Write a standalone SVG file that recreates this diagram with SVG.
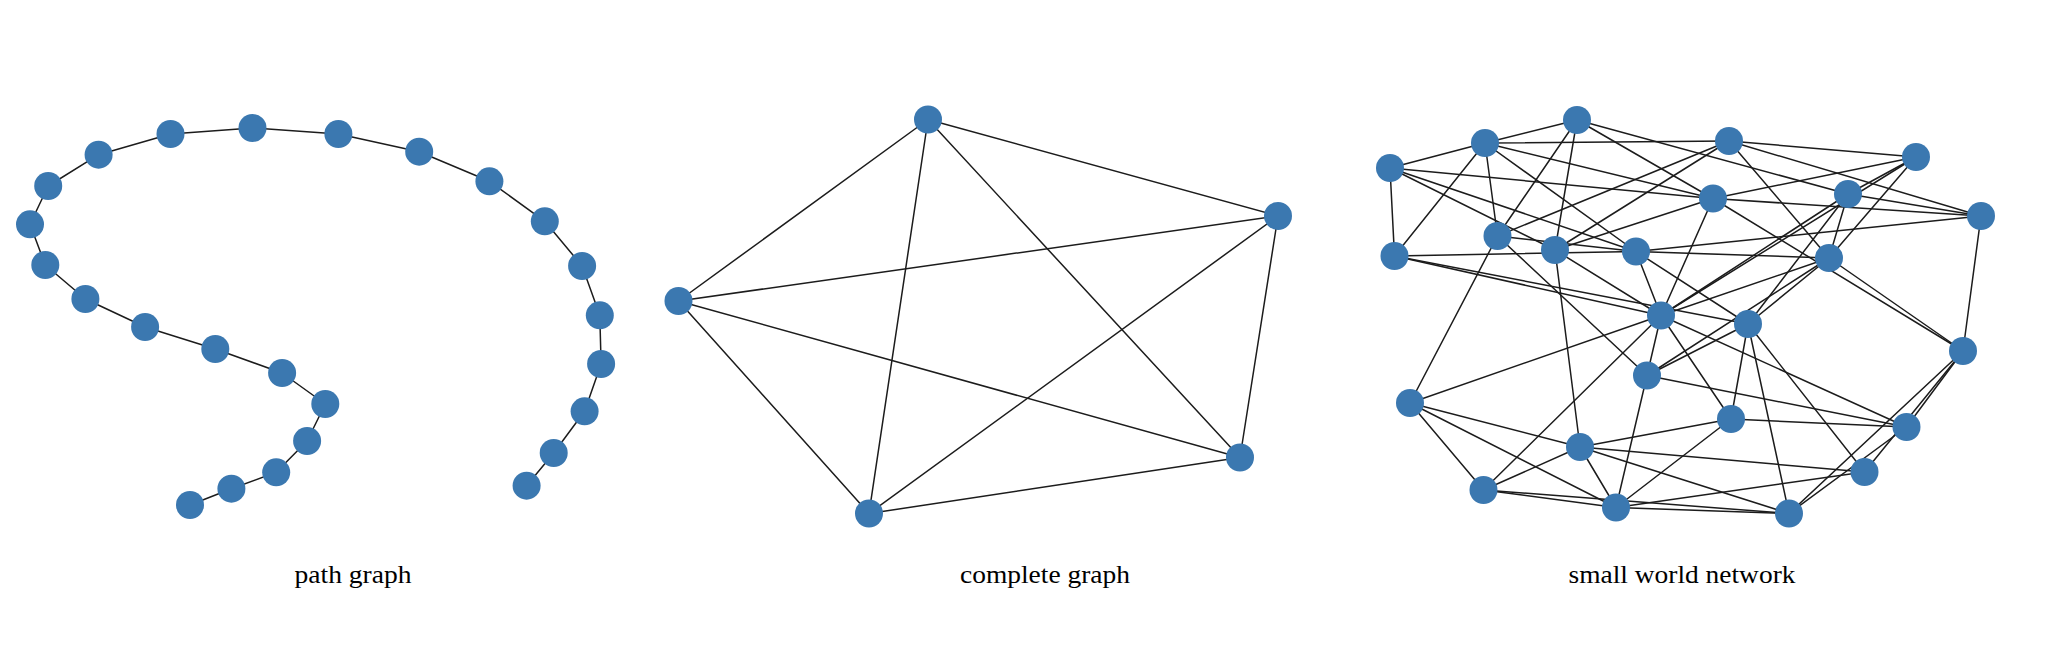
<svg xmlns="http://www.w3.org/2000/svg" width="2046" height="668" viewBox="0 0 2046 668">
<style>
.bg{fill:#ffffff}
.edges line{stroke:#1c1c1c;stroke-width:1.5;stroke-linecap:round}
.node circle{fill:#3b78b0}
.label{font-family:"Liberation Serif","DejaVu Serif",serif;font-size:25px;fill:#000;text-anchor:middle}
</style>
<rect class="bg" x="0" y="0" width="2046" height="668"/>
<g id="connectors" class="edges">
<g id="path-edges">
<line x1="190" y1="505" x2="231.4" y2="488.7"/>
<line x1="231.4" y1="488.7" x2="276.2" y2="472.3"/>
<line x1="276.2" y1="472.3" x2="307.1" y2="441"/>
<line x1="307.1" y1="441" x2="325.3" y2="404"/>
<line x1="325.3" y1="404" x2="282.1" y2="373"/>
<line x1="282.1" y1="373" x2="215.3" y2="349"/>
<line x1="215.3" y1="349" x2="145.1" y2="327"/>
<line x1="145.1" y1="327" x2="85.4" y2="299"/>
<line x1="85.4" y1="299" x2="45.3" y2="265"/>
<line x1="45.3" y1="265" x2="30" y2="224.3"/>
<line x1="30" y1="224.3" x2="48.2" y2="186"/>
<line x1="48.2" y1="186" x2="98.6" y2="154.7"/>
<line x1="98.6" y1="154.7" x2="170.5" y2="134"/>
<line x1="170.5" y1="134" x2="252.5" y2="128"/>
<line x1="252.5" y1="128" x2="338.4" y2="134"/>
<line x1="338.4" y1="134" x2="419.2" y2="151.7"/>
<line x1="419.2" y1="151.7" x2="489.4" y2="181.3"/>
<line x1="489.4" y1="181.3" x2="544.8" y2="221.3"/>
<line x1="544.8" y1="221.3" x2="582.1" y2="266"/>
<line x1="582.1" y1="266" x2="599.8" y2="315.3"/>
<line x1="599.8" y1="315.3" x2="601.1" y2="364"/>
<line x1="601.1" y1="364" x2="584.6" y2="411.3"/>
<line x1="584.6" y1="411.3" x2="553.7" y2="453"/>
<line x1="553.7" y1="453" x2="526.6" y2="485.7"/>
</g>
<g id="complete-edges">
<line x1="928" y1="119.5" x2="1278" y2="216"/>
<line x1="928" y1="119.5" x2="678.5" y2="301"/>
<line x1="928" y1="119.5" x2="1240" y2="457.5"/>
<line x1="928" y1="119.5" x2="869" y2="513.5"/>
<line x1="1278" y1="216" x2="678.5" y2="301"/>
<line x1="1278" y1="216" x2="1240" y2="457.5"/>
<line x1="1278" y1="216" x2="869" y2="513.5"/>
<line x1="678.5" y1="301" x2="1240" y2="457.5"/>
<line x1="678.5" y1="301" x2="869" y2="513.5"/>
<line x1="1240" y1="457.5" x2="869" y2="513.5"/>
</g>
<g id="smallworld-edges">
<line x1="1390" y1="168" x2="1485" y2="143"/>
<line x1="1390" y1="168" x2="1394.5" y2="256"/>
<line x1="1390" y1="168" x2="1713" y2="198.5"/>
<line x1="1390" y1="168" x2="1636" y2="251.5"/>
<line x1="1390" y1="168" x2="1555" y2="250"/>
<line x1="1485" y1="143" x2="1577" y2="120"/>
<line x1="1485" y1="143" x2="1394.5" y2="256"/>
<line x1="1485" y1="143" x2="1497.5" y2="236"/>
<line x1="1485" y1="143" x2="1729" y2="141"/>
<line x1="1485" y1="143" x2="1713" y2="198.5"/>
<line x1="1485" y1="143" x2="1636" y2="251.5"/>
<line x1="1577" y1="120" x2="1497.5" y2="236"/>
<line x1="1577" y1="120" x2="1555" y2="250"/>
<line x1="1577" y1="120" x2="1713" y2="198.5"/>
<line x1="1577" y1="120" x2="1848" y2="194"/>
<line x1="1729" y1="141" x2="1916" y2="157"/>
<line x1="1729" y1="141" x2="1981" y2="216"/>
<line x1="1729" y1="141" x2="1829" y2="258"/>
<line x1="1729" y1="141" x2="1555" y2="250"/>
<line x1="1729" y1="141" x2="1497.5" y2="236"/>
<line x1="1916" y1="157" x2="1713" y2="198.5"/>
<line x1="1916" y1="157" x2="1848" y2="194"/>
<line x1="1916" y1="157" x2="1661" y2="315.5"/>
<line x1="1916" y1="157" x2="1829" y2="258"/>
<line x1="1981" y1="216" x2="1713" y2="198.5"/>
<line x1="1981" y1="216" x2="1636" y2="251.5"/>
<line x1="1981" y1="216" x2="1848" y2="194"/>
<line x1="1981" y1="216" x2="1963" y2="351"/>
<line x1="1848" y1="194" x2="1661" y2="315.5"/>
<line x1="1848" y1="194" x2="1829" y2="258"/>
<line x1="1848" y1="194" x2="1748" y2="324"/>
<line x1="1713" y1="198.5" x2="1555" y2="250"/>
<line x1="1713" y1="198.5" x2="1963" y2="351"/>
<line x1="1713" y1="198.5" x2="1661" y2="315.5"/>
<line x1="1394.5" y1="256" x2="1636" y2="251.5"/>
<line x1="1394.5" y1="256" x2="1661" y2="315.5"/>
<line x1="1394.5" y1="256" x2="1748" y2="324"/>
<line x1="1497.5" y1="236" x2="1410" y2="403"/>
<line x1="1497.5" y1="236" x2="1636" y2="251.5"/>
<line x1="1497.5" y1="236" x2="1647" y2="375.5"/>
<line x1="1555" y1="250" x2="1661" y2="315.5"/>
<line x1="1555" y1="250" x2="1580" y2="447"/>
<line x1="1636" y1="251.5" x2="1661" y2="315.5"/>
<line x1="1636" y1="251.5" x2="1748" y2="324"/>
<line x1="1636" y1="251.5" x2="1829" y2="258"/>
<line x1="1829" y1="258" x2="1963" y2="351"/>
<line x1="1829" y1="258" x2="1647" y2="375.5"/>
<line x1="1829" y1="258" x2="1748" y2="324"/>
<line x1="1829" y1="258" x2="1661" y2="315.5"/>
<line x1="1661" y1="315.5" x2="1410" y2="403"/>
<line x1="1661" y1="315.5" x2="1483.5" y2="490"/>
<line x1="1661" y1="315.5" x2="1647" y2="375.5"/>
<line x1="1661" y1="315.5" x2="1731" y2="419"/>
<line x1="1661" y1="315.5" x2="1906.5" y2="427"/>
<line x1="1748" y1="324" x2="1647" y2="375.5"/>
<line x1="1748" y1="324" x2="1731" y2="419"/>
<line x1="1748" y1="324" x2="1864.5" y2="472"/>
<line x1="1748" y1="324" x2="1789" y2="513.5"/>
<line x1="1963" y1="351" x2="1906.5" y2="427"/>
<line x1="1963" y1="351" x2="1864.5" y2="472"/>
<line x1="1963" y1="351" x2="1789" y2="513.5"/>
<line x1="1410" y1="403" x2="1580" y2="447"/>
<line x1="1410" y1="403" x2="1483.5" y2="490"/>
<line x1="1410" y1="403" x2="1616" y2="507.5"/>
<line x1="1647" y1="375.5" x2="1906.5" y2="427"/>
<line x1="1647" y1="375.5" x2="1616" y2="507.5"/>
<line x1="1731" y1="419" x2="1906.5" y2="427"/>
<line x1="1731" y1="419" x2="1580" y2="447"/>
<line x1="1731" y1="419" x2="1616" y2="507.5"/>
<line x1="1906.5" y1="427" x2="1789" y2="513.5"/>
<line x1="1580" y1="447" x2="1483.5" y2="490"/>
<line x1="1580" y1="447" x2="1616" y2="507.5"/>
<line x1="1580" y1="447" x2="1864.5" y2="472"/>
<line x1="1580" y1="447" x2="1789" y2="513.5"/>
<line x1="1864.5" y1="472" x2="1616" y2="507.5"/>
<line x1="1483.5" y1="490" x2="1616" y2="507.5"/>
<line x1="1483.5" y1="490" x2="1789" y2="513.5"/>
<line x1="1616" y1="507.5" x2="1789" y2="513.5"/>
</g>
</g>
<g id="path-graph">
<g id="p1" class="node"><circle cx="190" cy="505" r="14"/></g>
<g id="p2" class="node"><circle cx="231.4" cy="488.7" r="14"/></g>
<g id="p3" class="node"><circle cx="276.2" cy="472.3" r="14"/></g>
<g id="p4" class="node"><circle cx="307.1" cy="441" r="14"/></g>
<g id="p5" class="node"><circle cx="325.3" cy="404" r="14"/></g>
<g id="p6" class="node"><circle cx="282.1" cy="373" r="14"/></g>
<g id="p7" class="node"><circle cx="215.3" cy="349" r="14"/></g>
<g id="p8" class="node"><circle cx="145.1" cy="327" r="14"/></g>
<g id="p9" class="node"><circle cx="85.4" cy="299" r="14"/></g>
<g id="p10" class="node"><circle cx="45.3" cy="265" r="14"/></g>
<g id="p11" class="node"><circle cx="30" cy="224.3" r="14"/></g>
<g id="p12" class="node"><circle cx="48.2" cy="186" r="14"/></g>
<g id="p13" class="node"><circle cx="98.6" cy="154.7" r="14"/></g>
<g id="p14" class="node"><circle cx="170.5" cy="134" r="14"/></g>
<g id="p15" class="node"><circle cx="252.5" cy="128" r="14"/></g>
<g id="p16" class="node"><circle cx="338.4" cy="134" r="14"/></g>
<g id="p17" class="node"><circle cx="419.2" cy="151.7" r="14"/></g>
<g id="p18" class="node"><circle cx="489.4" cy="181.3" r="14"/></g>
<g id="p19" class="node"><circle cx="544.8" cy="221.3" r="14"/></g>
<g id="p20" class="node"><circle cx="582.1" cy="266" r="14"/></g>
<g id="p21" class="node"><circle cx="599.8" cy="315.3" r="14"/></g>
<g id="p22" class="node"><circle cx="601.1" cy="364" r="14"/></g>
<g id="p23" class="node"><circle cx="584.6" cy="411.3" r="14"/></g>
<g id="p24" class="node"><circle cx="553.7" cy="453" r="14"/></g>
<g id="p25" class="node"><circle cx="526.6" cy="485.7" r="14"/></g>
</g>
<g id="complete-graph">
<g id="c1" class="node"><circle cx="928" cy="119.5" r="14"/></g>
<g id="c2" class="node"><circle cx="1278" cy="216" r="14"/></g>
<g id="c3" class="node"><circle cx="678.5" cy="301" r="14"/></g>
<g id="c4" class="node"><circle cx="1240" cy="457.5" r="14"/></g>
<g id="c5" class="node"><circle cx="869" cy="513.5" r="14"/></g>
</g>
<g id="small-world">
<g id="sa" class="node"><circle cx="1390" cy="168" r="14"/></g>
<g id="sb" class="node"><circle cx="1485" cy="143" r="14"/></g>
<g id="sc" class="node"><circle cx="1577" cy="120" r="14"/></g>
<g id="sd" class="node"><circle cx="1729" cy="141" r="14"/></g>
<g id="se" class="node"><circle cx="1916" cy="157" r="14"/></g>
<g id="sf" class="node"><circle cx="1981" cy="216" r="14"/></g>
<g id="sg" class="node"><circle cx="1848" cy="194" r="14"/></g>
<g id="sh" class="node"><circle cx="1713" cy="198.5" r="14"/></g>
<g id="si" class="node"><circle cx="1394.5" cy="256" r="14"/></g>
<g id="sj" class="node"><circle cx="1497.5" cy="236" r="14"/></g>
<g id="sk" class="node"><circle cx="1555" cy="250" r="14"/></g>
<g id="sl" class="node"><circle cx="1636" cy="251.5" r="14"/></g>
<g id="sm" class="node"><circle cx="1829" cy="258" r="14"/></g>
<g id="sn" class="node"><circle cx="1661" cy="315.5" r="14"/></g>
<g id="so" class="node"><circle cx="1748" cy="324" r="14"/></g>
<g id="sp" class="node"><circle cx="1963" cy="351" r="14"/></g>
<g id="sq" class="node"><circle cx="1410" cy="403" r="14"/></g>
<g id="sr" class="node"><circle cx="1647" cy="375.5" r="14"/></g>
<g id="ss" class="node"><circle cx="1731" cy="419" r="14"/></g>
<g id="st" class="node"><circle cx="1906.5" cy="427" r="14"/></g>
<g id="su" class="node"><circle cx="1580" cy="447" r="14"/></g>
<g id="sv" class="node"><circle cx="1864.5" cy="472" r="14"/></g>
<g id="sw" class="node"><circle cx="1483.5" cy="490" r="14"/></g>
<g id="sx" class="node"><circle cx="1616" cy="507.5" r="14"/></g>
<g id="sy" class="node"><circle cx="1789" cy="513.5" r="14"/></g>
</g>
<g id="labels">
<text class="label" x="353" y="583" textLength="117" lengthAdjust="spacingAndGlyphs">path graph</text>
<text class="label" x="1045" y="583" textLength="170" lengthAdjust="spacingAndGlyphs">complete graph</text>
<text class="label" x="1682" y="583" textLength="227" lengthAdjust="spacingAndGlyphs">small world network</text>
</g>
</svg>
